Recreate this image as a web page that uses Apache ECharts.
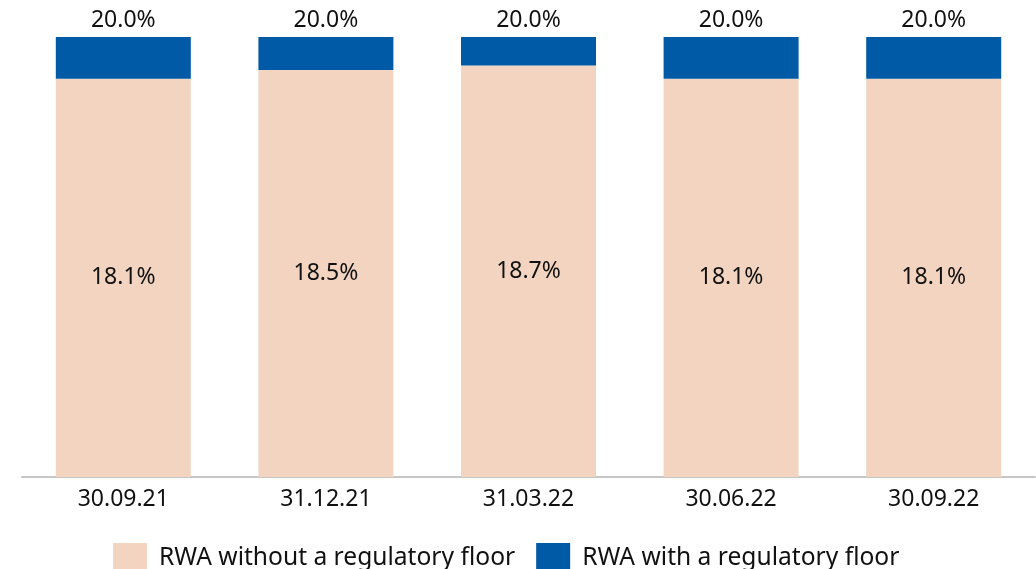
<!DOCTYPE html>
<html>
<head>
<meta charset="utf-8">
<script src="https://cdn.jsdelivr.net/npm/echarts@6/dist/echarts.min.js"></script>
<style>
html,body{margin:0;padding:0;background:#fff;}
#chart{width:1036px;height:569px;}
</style>
</head>
<body>
<div id="chart"></div>
<script>
var categories = ['30.09.21', '31.12.21', '31.03.22', '30.06.22', '30.09.22'];
var withoutFloor = [18.1, 18.5, 18.7, 18.1, 18.1];
var withFloor = [20.0, 20.0, 20.0, 20.0, 20.0];
var seriesNames = ['RWA without a regulatory floor', 'RWA with a regulatory floor'];

var floorAddOn = withFloor.map(function (v, i) { return +(v - withoutFloor[i]).toFixed(2); });
var FONT = '"Noto Sans", sans-serif';

var chart = echarts.init(document.getElementById('chart'), null, {renderer: 'canvas'});
chart.setOption({
  animation: false,
  textStyle: {fontFamily: FONT},
  grid: {left: 22, right: 1, top: 37, bottom: 92, containLabel: false},
  legend: {
    top: 543,
    left: 113,
    itemWidth: 34,
    itemHeight: 30,
    itemGap: 21,
    padding: 0,
    icon: 'rect',
    textStyle: {fontSize: 24.6, color: '#111', fontFamily: FONT, padding: [2, 0, 0, 7]},
    data: seriesNames
  },
  xAxis: {
    type: 'category',
    data: categories,
    axisLine: {lineStyle: {color: '#c6c6c6', width: 2}},
    axisTick: {show: false},
    axisLabel: {fontSize: 23, color: '#111', margin: 11, fontFamily: FONT}
  },
  yAxis: {
    type: 'value',
    min: 0,
    max: 20,
    show: false,
    splitLine: {show: false}
  },
  series: [
    {
      name: seriesNames[0],
      type: 'bar',
      stack: 'rwa',
      barWidth: 135,
      data: withoutFloor,
      itemStyle: {color: '#F2D4C0'},
      label: {
        show: true,
        position: 'inside',
        fontSize: 23,
        color: '#111',
        fontFamily: FONT,
        formatter: function (p) { return p.value.toFixed(1) + '%'; }
      }
    },
    {
      name: seriesNames[1],
      type: 'bar',
      stack: 'rwa',
      barWidth: 135,
      data: floorAddOn,
      itemStyle: {color: '#005AA5'},
      label: {
        show: true,
        position: 'top',
        distance: 5,
        fontSize: 23,
        color: '#111',
        fontFamily: FONT,
        formatter: function (p) { return withFloor[p.dataIndex].toFixed(1) + '%'; }
      }
    }
  ]
});
</script>
</body>
</html>
